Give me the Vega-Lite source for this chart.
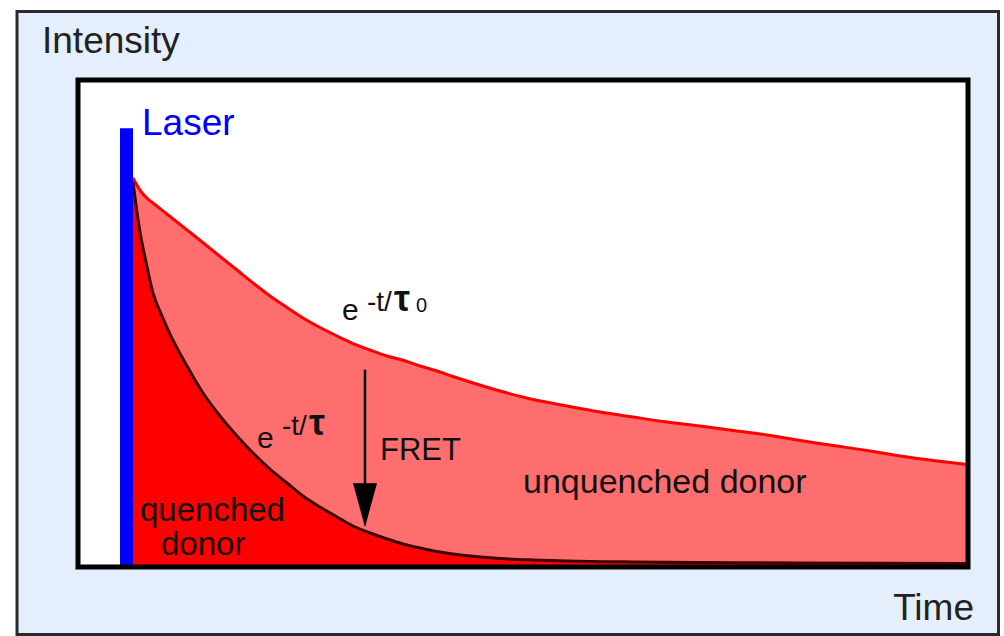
{
  "$schema": "https://vega.github.io/schema/vega-lite/v6.json",
  "width": 890,
  "height": 487,
  "autosize": {"type": "none"},
  "padding": {"left": 78, "top": 80, "right": 36, "bottom": 69},
  "background": "white",
  "config": {"view": {"stroke": null}, "font": "Liberation Sans"},
  "datasets": {
    "frames": [
      {"part": "page", "t0": -6.1, "t1": 92.05, "I0": -13.86, "I1": 114.07},
      {"part": "plot", "t0": 0, "t1": 89, "I0": 0, "I1": 100}
    ],
    "unquenched": [
      {"t": 5.5, "I": 79.88}, {"t": 6.0, "I": 78.03}, {"t": 6.5, "I": 76.59}, {"t": 7.0, "I": 75.56},
      {"t": 7.5, "I": 74.74}, {"t": 9.2, "I": 71.97}, {"t": 10.9, "I": 69.20}, {"t": 12.6, "I": 66.43},
      {"t": 14.2, "I": 63.76}, {"t": 15.9, "I": 60.99}, {"t": 17.5, "I": 58.32}, {"t": 19.2, "I": 55.65},
      {"t": 20.9, "I": 53.29}, {"t": 22.5, "I": 51.13}, {"t": 24.2, "I": 49.18}, {"t": 25.9, "I": 47.43},
      {"t": 27.5, "I": 45.89}, {"t": 29.2, "I": 44.56}, {"t": 30.9, "I": 43.33}, {"t": 32.6, "I": 42.40},
      {"t": 34.2, "I": 41.27}, {"t": 35.9, "I": 40.25}, {"t": 37.5, "I": 39.12}, {"t": 39.2, "I": 37.99},
      {"t": 42.2, "I": 36.14}, {"t": 45.5, "I": 34.39}, {"t": 48.9, "I": 33.06}, {"t": 52.2, "I": 31.83},
      {"t": 55.5, "I": 30.80}, {"t": 58.9, "I": 29.77}, {"t": 62.2, "I": 28.95}, {"t": 65.5, "I": 28.03},
      {"t": 68.9, "I": 27.10}, {"t": 72.2, "I": 25.97}, {"t": 75.5, "I": 24.95}, {"t": 78.9, "I": 23.92},
      {"t": 82.2, "I": 22.79}, {"t": 85.5, "I": 21.87}, {"t": 87.2, "I": 21.46}, {"t": 89.0, "I": 21.05}
    ],
    "quenched": [
      {"t": 5.5, "I": 79.06}, {"t": 5.8, "I": 74.33}, {"t": 6.2, "I": 68.79}, {"t": 6.8, "I": 62.63},
      {"t": 7.5, "I": 56.26}, {"t": 8.4, "I": 51.54}, {"t": 9.2, "I": 47.84}, {"t": 10.9, "I": 41.27},
      {"t": 12.5, "I": 35.73}, {"t": 14.2, "I": 31.01}, {"t": 15.9, "I": 26.90}, {"t": 17.5, "I": 23.41},
      {"t": 19.2, "I": 20.12}, {"t": 20.9, "I": 17.25}, {"t": 22.5, "I": 14.58}, {"t": 24.2, "I": 12.32},
      {"t": 25.9, "I": 10.27}, {"t": 27.5, "I": 8.42}, {"t": 29.2, "I": 6.98}, {"t": 30.9, "I": 5.75},
      {"t": 32.5, "I": 4.72}, {"t": 34.2, "I": 3.90}, {"t": 35.9, "I": 3.18}, {"t": 37.5, "I": 2.67},
      {"t": 39.2, "I": 2.26}, {"t": 42.2, "I": 1.75}, {"t": 45.5, "I": 1.44}, {"t": 48.9, "I": 1.23},
      {"t": 55.5, "I": 1.03}, {"t": 62.2, "I": 0.92}, {"t": 72.2, "I": 0.82}, {"t": 89.0, "I": 0.72}
    ],
    "laser": [{"t0": 4.2, "t1": 5.5, "I0": 0, "I1": 90.1}],
    "fret": [{"t": 28.7, "I0": 40.5, "I1": 15.8, "tip": 12.7}],
    "labels": [
      {"kind": "axisleft", "text": "Intensity", "t": -3.6, "I": 105.5},
      {"kind": "axisright", "text": "Time", "t": 89.6, "I": -10.9},
      {"kind": "laser", "text": "Laser", "t": 6.4, "I": 88.7},
      {"kind": "donor", "text": "quenched", "t": 6.2, "I": 9.45},
      {"kind": "donor", "text": "donor", "t": 8.3, "I": 2.46},
      {"kind": "donor2", "text": "unquenched donor", "t": 44.5, "I": 15.2},
      {"kind": "fret", "text": "FRET", "t": 30.2, "I": 22.0},
      {"kind": "e", "text": "e", "t": 26.4, "I": 50.7},
      {"kind": "sup", "text": "-t/", "t": 28.9, "I": 52.6},
      {"kind": "tau", "text": "τ", "t": 31.6, "I": 52.6},
      {"kind": "sub", "text": "0", "t": 33.8, "I": 52.4},
      {"kind": "e", "text": "e", "t": 17.9, "I": 24.4},
      {"kind": "sup", "text": "-t/", "t": 20.4, "I": 27.1},
      {"kind": "tau", "text": "τ", "t": 23.1, "I": 27.1}
    ]
  },
  "layer": [
    {
      "data": {"name": "frames"},
      "transform": [{"filter": "datum.part === 'page'"}],
      "mark": {"type": "rect", "fill": "#e5eefc", "stroke": "#2a2a2a", "strokeWidth": 3},
      "encoding": {
        "x": {"field": "t0", "type": "quantitative", "axis": null},
        "x2": {"field": "t1"},
        "y": {"field": "I0", "type": "quantitative", "axis": null},
        "y2": {"field": "I1"}
      }
    },
    {
      "data": {"name": "frames"},
      "transform": [{"filter": "datum.part === 'plot'"}],
      "mark": {"type": "rect", "fill": "white"},
      "encoding": {
        "x": {"field": "t0", "type": "quantitative", "axis": null},
        "x2": {"field": "t1"},
        "y": {"field": "I0", "type": "quantitative", "axis": null},
        "y2": {"field": "I1"}
      }
    },
    {
      "data": {"name": "unquenched"},
      "mark": {"type": "area", "fill": "#ff6e6e", "stroke": "#ff0000", "strokeWidth": 3, "interpolate": "monotone", "fillOpacity": 1},
      "encoding": {
        "x": {"field": "t", "type": "quantitative", "scale": {"domain": [0, 89], "nice": false, "zero": false}, "axis": null},
        "y": {"field": "I", "type": "quantitative", "stack": null, "scale": {"domain": [0, 100], "nice": false, "zero": false}, "axis": null}
      }
    },
    {
      "data": {"name": "quenched"},
      "mark": {"type": "area", "fill": "#ff0000", "interpolate": "monotone", "fillOpacity": 1},
      "encoding": {
        "x": {"field": "t", "type": "quantitative", "axis": null},
        "y": {"field": "I", "type": "quantitative", "stack": null, "axis": null}
      }
    },
    {
      "data": {"name": "quenched"},
      "mark": {"type": "line", "stroke": "#3e0000", "strokeWidth": 3, "interpolate": "monotone"},
      "encoding": {
        "x": {"field": "t", "type": "quantitative", "axis": null},
        "y": {"field": "I", "type": "quantitative", "axis": null}
      }
    },
    {
      "data": {"name": "laser"},
      "mark": {"type": "rect", "fill": "#0000ff"},
      "encoding": {
        "x": {"field": "t0", "type": "quantitative", "axis": null},
        "x2": {"field": "t1"},
        "y": {"field": "I0", "type": "quantitative", "axis": null},
        "y2": {"field": "I1"}
      }
    },
    {
      "data": {"name": "fret"},
      "mark": {"type": "rule", "stroke": "#000000", "strokeWidth": 2.5},
      "encoding": {
        "x": {"field": "t", "type": "quantitative", "axis": null},
        "y": {"field": "I0", "type": "quantitative", "axis": null},
        "y2": {"field": "I1"}
      }
    },
    {
      "data": {"name": "fret"},
      "mark": {"type": "point", "shape": "M -0.545 -1 L 0.545 -1 L 0 1 Z", "size": 1936, "filled": true, "fill": "#000000", "opacity": 1, "strokeWidth": 0},
      "encoding": {
        "x": {"field": "t", "type": "quantitative", "axis": null},
        "y": {"field": "tip", "type": "quantitative", "axis": null}
      }
    },
    {
      "data": {"name": "labels"},
      "transform": [{"filter": "datum.kind === 'axisleft'"}],
      "mark": {"type": "text", "font": "Liberation Sans", "fontSize": 37, "fill": "#222222", "align": "left", "baseline": "alphabetic"},
      "encoding": {
        "x": {"field": "t", "type": "quantitative", "axis": null},
        "y": {"field": "I", "type": "quantitative", "axis": null},
        "text": {"field": "text"}
      }
    },
    {
      "data": {"name": "labels"},
      "transform": [{"filter": "datum.kind === 'axisright'"}],
      "mark": {"type": "text", "font": "Liberation Sans", "fontSize": 37, "fill": "#222222", "align": "right", "baseline": "alphabetic"},
      "encoding": {
        "x": {"field": "t", "type": "quantitative", "axis": null},
        "y": {"field": "I", "type": "quantitative", "axis": null},
        "text": {"field": "text"}
      }
    },
    {
      "data": {"name": "labels"},
      "transform": [{"filter": "datum.kind === 'laser'"}],
      "mark": {"type": "text", "font": "Liberation Sans", "fontSize": 37, "fill": "#0000ff", "align": "left", "baseline": "alphabetic"},
      "encoding": {
        "x": {"field": "t", "type": "quantitative", "axis": null},
        "y": {"field": "I", "type": "quantitative", "axis": null},
        "text": {"field": "text"}
      }
    },
    {
      "data": {"name": "labels"},
      "transform": [{"filter": "datum.kind === 'donor'"}],
      "mark": {"type": "text", "font": "Liberation Sans", "fontSize": 33, "fill": "#111111", "align": "left", "baseline": "alphabetic"},
      "encoding": {
        "x": {"field": "t", "type": "quantitative", "axis": null},
        "y": {"field": "I", "type": "quantitative", "axis": null},
        "text": {"field": "text"}
      }
    },
    {
      "data": {"name": "labels"},
      "transform": [{"filter": "datum.kind === 'donor2'"}],
      "mark": {"type": "text", "font": "Liberation Sans", "fontSize": 34, "fill": "#111111", "align": "left", "baseline": "alphabetic"},
      "encoding": {
        "x": {"field": "t", "type": "quantitative", "axis": null},
        "y": {"field": "I", "type": "quantitative", "axis": null},
        "text": {"field": "text"}
      }
    },
    {
      "data": {"name": "labels"},
      "transform": [{"filter": "datum.kind === 'fret'"}],
      "mark": {"type": "text", "font": "Liberation Sans", "fontSize": 31, "fill": "#111111", "align": "left", "baseline": "alphabetic"},
      "encoding": {
        "x": {"field": "t", "type": "quantitative", "axis": null},
        "y": {"field": "I", "type": "quantitative", "axis": null},
        "text": {"field": "text"}
      }
    },
    {
      "data": {"name": "labels"},
      "transform": [{"filter": "datum.kind === 'e'"}],
      "mark": {"type": "text", "font": "Liberation Sans", "fontSize": 30, "fill": "#111111", "align": "left", "baseline": "alphabetic"},
      "encoding": {
        "x": {"field": "t", "type": "quantitative", "axis": null},
        "y": {"field": "I", "type": "quantitative", "axis": null},
        "text": {"field": "text"}
      }
    },
    {
      "data": {"name": "labels"},
      "transform": [{"filter": "datum.kind === 'sup'"}],
      "mark": {"type": "text", "font": "Liberation Sans", "fontSize": 28, "fill": "#111111", "align": "left", "baseline": "alphabetic"},
      "encoding": {
        "x": {"field": "t", "type": "quantitative", "axis": null},
        "y": {"field": "I", "type": "quantitative", "axis": null},
        "text": {"field": "text"}
      }
    },
    {
      "data": {"name": "labels"},
      "transform": [{"filter": "datum.kind === 'tau'"}],
      "mark": {"type": "text", "font": "Liberation Sans", "fontSize": 36, "fontWeight": "bold", "fill": "#111111", "align": "left", "baseline": "alphabetic"},
      "encoding": {
        "x": {"field": "t", "type": "quantitative", "axis": null},
        "y": {"field": "I", "type": "quantitative", "axis": null},
        "text": {"field": "text"}
      }
    },
    {
      "data": {"name": "labels"},
      "transform": [{"filter": "datum.kind === 'sub'"}],
      "mark": {"type": "text", "font": "Liberation Sans", "fontSize": 20, "fill": "#111111", "align": "left", "baseline": "alphabetic"},
      "encoding": {
        "x": {"field": "t", "type": "quantitative", "axis": null},
        "y": {"field": "I", "type": "quantitative", "axis": null},
        "text": {"field": "text"}
      }
    },
    {
      "data": {"name": "frames"},
      "transform": [{"filter": "datum.part === 'plot'"}],
      "mark": {"type": "rect", "filled": false, "stroke": "#000000", "strokeWidth": 5},
      "encoding": {
        "x": {"field": "t0", "type": "quantitative", "axis": null},
        "x2": {"field": "t1"},
        "y": {"field": "I0", "type": "quantitative", "axis": null},
        "y2": {"field": "I1"}
      }
    }
  ]
}
